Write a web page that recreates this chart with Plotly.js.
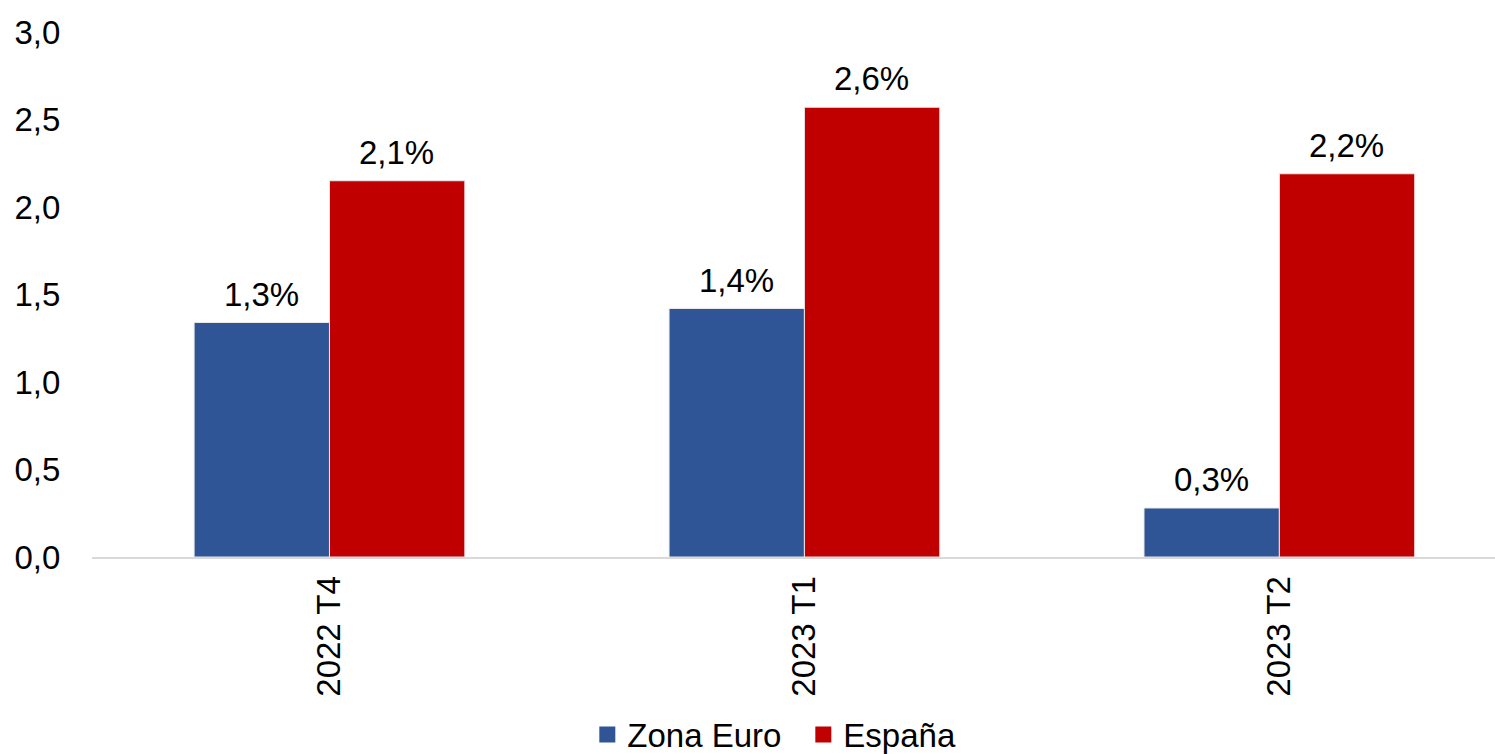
<!DOCTYPE html>
<html>
<head>
<meta charset="utf-8">
<script src="https://cdn.plot.ly/plotly-3.0.1.min.js"></script>
<style>html,body{margin:0;padding:0;background:#fff;}#chart{width:1495px;height:754px;}</style>
</head>
<body>
<div id="chart"></div>
<script>
const categories = ["2022 T4", "2023 T1", "2023 T2"];
const zonaEuro = [1.34, 1.42, 0.28];
const espana = [2.15, 2.57, 2.19];
const zonaEuroLabels = ["1,3%", "1,4%", "0,3%"];
const espanaLabels = ["2,1%", "2,6%", "2,2%"];

const font = "Liberation Sans, Arial, sans-serif";
const FS = 33;
const blue = "#2F5597", red = "#C00000";

const traces = [
  {type: "bar", name: "Zona Euro", x: categories, y: zonaEuro, showlegend: false,
   marker: {color: blue, line: {color: "#e8e8e8", width: 1}}, hoverinfo: "none"},
  {type: "bar", name: "España", x: categories, y: espana, showlegend: false,
   marker: {color: red, line: {color: "#e8e8e8", width: 1}}, hoverinfo: "none"},
  {type: "scatter", mode: "markers", name: "Zona Euro", x: [null], y: [null],
   marker: {symbol: "square", size: 17, color: blue}, hoverinfo: "none"},
  {type: "scatter", mode: "markers", name: "España", x: [null], y: [null],
   marker: {symbol: "square", size: 17, color: red}, hoverinfo: "none"}
];

const annotations = [];
categories.forEach((c, i) => {
  annotations.push({x: c, y: zonaEuro[i], xref: "x", yref: "y", text: zonaEuroLabels[i],
    showarrow: false, yanchor: "bottom", xanchor: "center", xshift: -67.5, yshift: 8,
    font: {size: FS, family: font, color: "#000"}});
  annotations.push({x: c, y: espana[i], xref: "x", yref: "y", text: espanaLabels[i],
    showarrow: false, yanchor: "bottom", xanchor: "center", xshift: 67.5, yshift: 8,
    font: {size: FS, family: font, color: "#000"}});
});

const layout = {
  width: 1495, height: 754,
  margin: {l: 92, r: 0, t: 32, b: 197, autoexpand: false},
  separators: ",.",
  font: {family: font, size: FS, color: "#000"},
  paper_bgcolor: "#fff", plot_bgcolor: "#fff",
  barmode: "group", bargap: 0.43, bargroupgap: 0,
  annotations: annotations,
  xaxis: {type: "category", range: [-0.5, 2.454], tickangle: -90, showline: true,
          linecolor: "#d9d9d9", linewidth: 2, ticks: "outside", ticklen: 4, tickcolor: "rgba(0,0,0,0)",
          showgrid: false, zeroline: false, automargin: false,
          tickfont: {size: FS, family: font}, fixedrange: true},
  yaxis: {range: [0, 3.0], dtick: 0.5, tick0: 0, tickformat: ".1f", showgrid: false,
          zeroline: false, showline: false, ticks: "outside", ticklen: 24, tickcolor: "rgba(0,0,0,0)",
          automargin: false, tickfont: {size: FS, family: font}, fixedrange: true},
  showlegend: true,
  legend: {orientation: "h", x: 0.507, xanchor: "center", y: -0.338, yanchor: "middle",
           font: {size: FS, family: font}, itemwidth: 30, itemsizing: "trace", traceorder: "normal",
           entrywidth: 171, entrywidthmode: "pixels"}
};
Plotly.newPlot("chart", traces, layout, {displayModeBar: false, staticPlot: true});
</script>
</body>
</html>
